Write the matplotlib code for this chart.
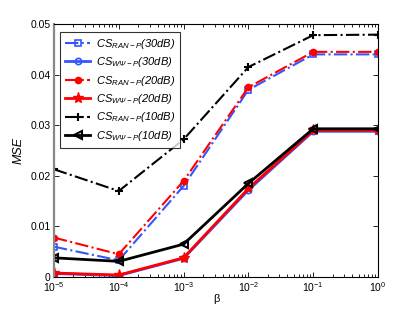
import matplotlib.pyplot as plt
from matplotlib.ticker import FixedLocator

plt.rcParams['font.family'] = ['Liberation Sans', 'DejaVu Sans']
plt.rcParams['mathtext.fontset'] = 'custom'
plt.rcParams['mathtext.it'] = 'Liberation Sans:italic'
plt.rcParams['mathtext.rm'] = 'Liberation Sans:italic'

# ================================
# Data
# ================================
beta = [1e-5, 1e-4, 1e-3, 1e-2, 1e-1, 1e0]

ran_30 = [0.0060, 0.0033, 0.0180, 0.0370, 0.0440, 0.0440]
wpsi_30 = [0.0007, 0.0003, 0.0037, 0.0172, 0.0288, 0.0288]
ran_20 = [0.0078, 0.0045, 0.0190, 0.0375, 0.0445, 0.0445]
wpsi_20 = [0.0008, 0.0004, 0.0038, 0.0175, 0.0290, 0.0290]
ran_10 = [0.0213, 0.0170, 0.0272, 0.0415, 0.0478, 0.0479]
wpsi_10 = [0.0038, 0.0031, 0.0065, 0.0185, 0.0293, 0.0293]

labels = [
    r'$CS_{RAN-P}\mathrm{(30dB)}$',
    r'$CS_{W\Psi-P}\mathrm{(30dB)}$',
    r'$CS_{RAN-P}\mathrm{(20dB)}$',
    r'$CS_{W\Psi-P}\mathrm{(20dB)}$',
    r'$CS_{RAN-P}\mathrm{(10dB)}$',
    r'$CS_{W\Psi-P}\mathrm{(10dB)}$',
]

# ================================
# Plot
# ================================
fig = plt.figure(figsize=(4.15, 3.12), dpi=100)
ax = fig.add_axes([0.130, 0.112, 0.781, 0.811])

ax.plot(beta, ran_30, color='#3355ff', ls='-.', lw=1.5, marker='s',
        ms=4.5, mfc='none', mew=1.2, label=labels[0])
ax.plot(beta, wpsi_30, color='#3355ff', ls='-', lw=2, marker='o',
        ms=4.5, mfc='none', mew=1.2, label=labels[1])
ax.plot(beta, ran_20, color='red', ls='-.', lw=1.5, marker='o',
        ms=4.5, label=labels[2])
ax.plot(beta, wpsi_20, color='red', ls='-', lw=2, marker='*',
        ms=8, label=labels[3])
ax.plot(beta, ran_10, color='black', ls='-.', lw=1.5, marker='+',
        ms=6, mew=1.5, label=labels[4])
ax.plot(beta, wpsi_10, color='black', ls='-', lw=2, marker='<',
        ms=6, mfc='none', mew=1.5, label=labels[5])

ax.set_xscale('log')
ax.set_xlim(1e-5, 1e0)
ax.set_ylim(0, 0.05)
ax.yaxis.set_major_locator(FixedLocator([0, 0.01, 0.02, 0.03, 0.04, 0.05]))
ax.set_yticklabels(['0', '0.01', '0.02', '0.03', '0.04', '0.05'])

ax.tick_params(which='both', direction='in', top=True, right=True,
               labelsize=7.5, width=0.6)
ax.tick_params(which='major', length=3.5, pad=2.5)
ax.tick_params(which='minor', length=2)
for s in ax.spines.values():
    s.set_linewidth(0.8)
ax.spines['left'].set_color('#888888')
ax.spines['left'].set_linewidth(1.6)

ax.set_xlabel('\u03b2', fontsize=8, labelpad=0)
ax.set_ylabel('MSE', fontsize=9, style='italic', labelpad=4)

leg = ax.legend(loc='upper left', fontsize=8, frameon=True, fancybox=False,
                edgecolor='black', handlelength=2.3, handletextpad=0.5,
                borderpad=0.45, labelspacing=0.4, borderaxespad=0,
                bbox_to_anchor=(0.018, 0.97))
leg.get_frame().set_linewidth(0.8)

fig.savefig('out.png', dpi=100)
